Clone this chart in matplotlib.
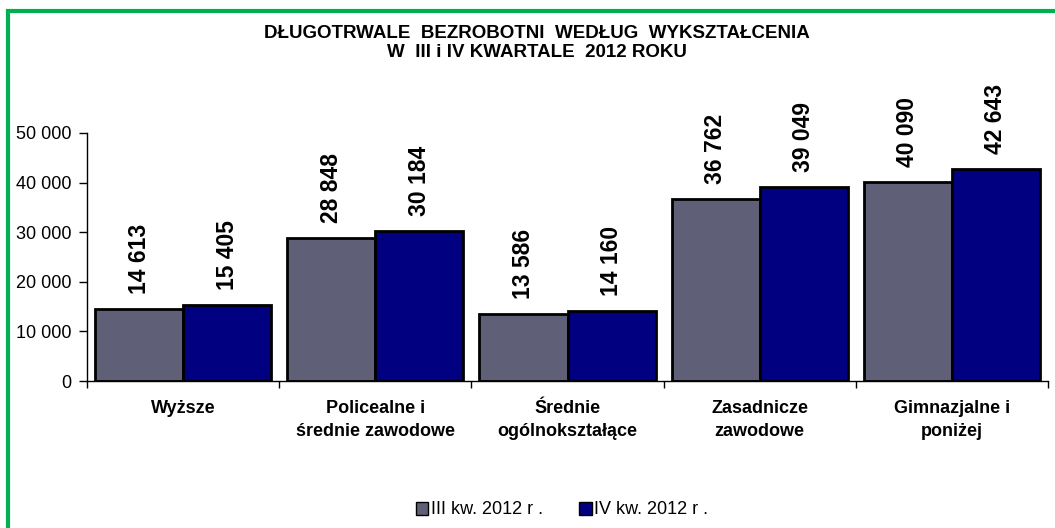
import numpy as np
import matplotlib
matplotlib.use("Agg")
import matplotlib.pyplot as plt
from matplotlib.patches import Rectangle, Patch
from matplotlib.ticker import FuncFormatter

plt.rcParams["font.family"] = ["Liberation Sans", "DejaVu Sans"]

categories = ["Wyższe", "Policealne i\nśrednie zawodowe", "Średnie\nogólnokształące",
              "Zasadnicze\nzawodowe", "Gimnazjalne i\nponiżej"]
q3_values = [14613, 28848, 13586, 36762, 40090]
q4_values = [15405, 30184, 14160, 39049, 42643]
series_names = ["III kw. 2012 r .", "IV kw. 2012 r ."]
title = "DŁUGOTRWALE  BEZROBOTNI  WEDŁUG  WYKSZTAŁCENIA\nW  III i IV KWARTALE  2012 ROKU"

GRAY = "#5f5f78"
NAVY = "#000080"

W, H = 1055, 528
fig = plt.figure(figsize=(W / 100, H / 100), dpi=100)
ax = fig.add_axes([87 / W, 1 - 381 / H, (1048 - 87) / W, (381 - 133) / H])

x = np.arange(len(categories))
bw = 0.458
b1 = ax.bar(x - bw / 2, q3_values, bw, color=GRAY, edgecolor="black", linewidth=2)
b2 = ax.bar(x + bw / 2, q4_values, bw, color=NAVY, edgecolor="black", linewidth=2)

for bars, vals in ((b1, q3_values), (b2, q4_values)):
    for rect, v in zip(bars, vals):
        ax.annotate(f"{v:,}".replace(",", " "),
                    (rect.get_x() + rect.get_width() / 2, v),
                    xytext=(0, 15), textcoords="offset pixels",
                    rotation=90, ha="center", va="bottom",
                    fontsize=16.5, fontweight="bold", annotation_clip=False)

ax.set_xlim(-0.5, len(categories) - 0.5)
ax.set_ylim(0, 50000)
ax.set_yticks(range(0, 50001, 10000))
ax.yaxis.set_major_formatter(FuncFormatter(lambda v, p: f"{int(v):,}".replace(",", " ")))
ax.tick_params(axis="y", labelsize=13, length=6, width=1, direction="out", pad=5)

ax.set_xticks(np.arange(-0.5, len(categories), 1.0))
ax.set_xticklabels([])
ax.tick_params(axis="x", length=5, width=1, direction="out")
for i, c in enumerate(categories):
    ax.text(i, -0.075, c, transform=ax.get_xaxis_transform(), ha="center", va="top",
            fontsize=13, fontweight="bold", linespacing=1.5)

for s in ("top", "right"):
    ax.spines[s].set_visible(False)
for s in ("left", "bottom"):
    ax.spines[s].set_linewidth(1)

fig.text(537 / W, 1 - 43 / H, title, ha="center", va="center",
         fontsize=13.5, fontweight="bold", linespacing=1.15)

handles = [Patch(facecolor=GRAY, edgecolor="black", label=series_names[0]),
           Patch(facecolor=NAVY, edgecolor="black", label=series_names[1])]
fig.legend(handles=handles, loc="center", bbox_to_anchor=(562 / W, 1 - 510 / H), ncol=2,
           frameon=False, fontsize=13, handlelength=0.7, handleheight=0.7,
           handletextpad=0.15, columnspacing=2)

fig.patches.append(Rectangle((8 / W, -0.1), 1.2, 1 - 11 / H + 0.1, transform=fig.transFigure,
                             fill=False, edgecolor="#00b050", linewidth=3))

fig.savefig("out.png", dpi=100)
